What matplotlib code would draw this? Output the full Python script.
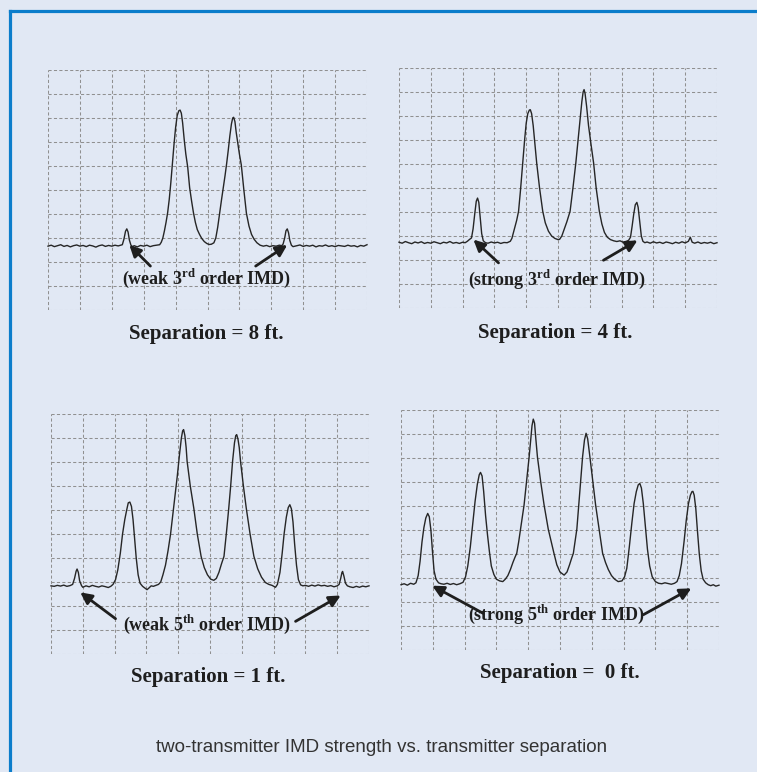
"""Two-transmitter IMD strength vs. transmitter separation (4 analyzer screens)."""
import matplotlib
matplotlib.use("Agg")
import matplotlib.pyplot as plt
from matplotlib.lines import Line2D

plt.rcParams["mathtext.fontset"] = "custom"
plt.rcParams["mathtext.rm"] = "Liberation Serif:bold"
plt.rcParams["mathtext.bf"] = "Liberation Serif:bold"

X_8FT = [0.0, 0.1, 0.2, 0.3, 0.4, 0.5, 0.6, 0.7, 0.8, 0.9,
         1.0, 1.1, 1.2, 1.3, 1.4, 1.5, 1.6, 1.7, 1.8, 1.9,
         2.0, 2.1, 2.2, 2.33, 2.38, 2.43, 2.47, 2.51, 2.55, 2.60,
         2.65, 2.7, 2.8, 2.9, 3.0, 3.1, 3.2, 3.3, 3.4, 3.5,
         3.55, 3.6, 3.65, 3.7, 3.75, 3.8, 3.85, 3.9, 3.95, 4.0,
         4.05, 4.1, 4.14, 4.18, 4.22, 4.27, 4.32, 4.38, 4.44, 4.5,
         4.56, 4.62, 4.68, 4.75, 4.82, 4.9, 4.98, 5.05, 5.12, 5.2,
         5.26, 5.32, 5.38, 5.44, 5.5, 5.55, 5.6, 5.65, 5.7, 5.75,
         5.79, 5.82, 5.86, 5.9, 5.95, 6.0, 6.06, 6.14, 6.22, 6.3,
         6.38, 6.46, 6.55, 6.65, 6.75, 6.85, 6.95, 7.05, 7.15, 7.25,
         7.33, 7.37, 7.42, 7.46, 7.50, 7.54, 7.58, 7.63, 7.68, 7.8,
         7.9, 8.0, 8.1, 8.2, 8.3, 8.4, 8.5, 8.6, 8.7, 8.8,
         8.9, 9.0, 9.1, 9.2, 9.3, 9.4, 9.5, 9.6, 9.7, 9.8,
         9.9, 10.0]
Y_8FT = [2.66, 2.70, 2.64, 2.68, 2.72, 2.65, 2.69, 2.63, 2.68, 2.71,
         2.66, 2.69, 2.64, 2.70, 2.67, 2.62, 2.68, 2.71, 2.65, 2.69,
         2.66, 2.70, 2.67, 2.72, 2.95, 3.28, 3.38, 3.25, 2.92, 2.70,
         2.64, 2.68, 2.63, 2.69, 2.66, 2.70, 2.64, 2.68, 2.70, 2.72,
         2.82, 3.00, 3.30, 3.65, 4.05, 4.60, 5.30, 6.10, 6.90, 7.60,
         8.10, 8.30, 8.33, 8.20, 7.80, 7.10, 6.50, 5.95, 5.10, 4.55,
         4.05, 3.65, 3.35, 3.15, 2.98, 2.85, 2.77, 2.73, 2.74, 2.80,
         3.00, 3.45, 4.03, 4.60, 5.15, 5.60, 6.10, 6.65, 7.25, 7.75,
         8.00, 8.03, 7.85, 7.40, 6.95, 6.50, 6.04, 5.00, 4.03, 3.50,
         3.15, 2.95, 2.80, 2.70, 2.66, 2.69, 2.64, 2.68, 2.66, 2.70,
         2.68, 2.75, 3.00, 3.30, 3.38, 3.22, 2.90, 2.70, 2.64, 2.68,
         2.71, 2.65, 2.69, 2.66, 2.70, 2.63, 2.68, 2.66, 2.71, 2.65,
         2.68, 2.64, 2.69, 2.67, 2.65, 2.70, 2.66, 2.68, 2.63, 2.69,
         2.66, 2.72]

X_4FT = [0.0, 0.1, 0.2, 0.3, 0.4, 0.5, 0.6, 0.7, 0.8, 0.9,
         1.0, 1.1, 1.2, 1.3, 1.4, 1.5, 1.6, 1.7, 1.8, 1.9,
         2.0, 2.08, 2.15, 2.22, 2.28, 2.33, 2.38, 2.43, 2.47, 2.51,
         2.55, 2.60, 2.65, 2.72, 2.8, 2.9, 3.0, 3.1, 3.2, 3.3,
         3.4, 3.5, 3.55, 3.6, 3.65, 3.7, 3.76, 3.82, 3.89, 3.95,
         4.0, 4.05, 4.1, 4.13, 4.17, 4.22, 4.27, 4.33, 4.42, 4.52,
         4.6, 4.7, 4.8, 4.9, 5.0, 5.05, 5.12, 5.2, 5.28, 5.38,
         5.47, 5.56, 5.63, 5.70, 5.75, 5.79, 5.82, 5.85, 5.9, 5.96,
         6.04, 6.12, 6.2, 6.3, 6.38, 6.46, 6.55, 6.65, 6.75, 6.85,
         6.95, 7.05, 7.15, 7.22, 7.28, 7.33, 7.38, 7.43, 7.48, 7.52,
         7.57, 7.62, 7.67, 7.73, 7.8, 7.9, 8.0, 8.1, 8.2, 8.3,
         8.4, 8.5, 8.6, 8.7, 8.8, 8.9, 9.0, 9.1, 9.16, 9.22,
         9.3, 9.4, 9.5, 9.6, 9.7, 9.8, 9.9, 10.0]
Y_4FT = [2.74, 2.70, 2.77, 2.72, 2.68, 2.75, 2.71, 2.76, 2.69, 2.73,
         2.70, 2.76, 2.72, 2.68, 2.74, 2.71, 2.77, 2.70, 2.73, 2.69,
         2.74, 2.72, 2.78, 2.86, 2.92, 3.30, 3.90, 4.45, 4.58, 4.40,
         3.80, 3.10, 2.80, 2.72, 2.70, 2.75, 2.71, 2.74, 2.69, 2.73,
         2.72, 2.78, 2.90, 3.15, 3.40, 3.65, 4.03, 4.90, 6.04, 7.00,
         7.70, 8.10, 8.25, 8.26, 8.10, 7.60, 6.90, 6.04, 5.00, 4.03,
         3.55, 3.20, 3.00, 2.90, 2.85, 2.86, 3.00, 3.30, 3.60, 4.03,
         5.00, 6.04, 7.00, 7.95, 8.60, 9.00, 9.10, 8.95, 8.40, 7.60,
         6.80, 6.04, 5.00, 4.03, 3.50, 3.15, 2.95, 2.85, 2.80, 2.77,
         2.80, 2.74, 2.78, 2.82, 2.95, 3.40, 3.90, 4.30, 4.40, 4.20,
         3.60, 3.00, 2.78, 2.72, 2.75, 2.70, 2.76, 2.71, 2.74, 2.69,
         2.75, 2.72, 2.68, 2.74, 2.70, 2.76, 2.71, 2.78, 2.95, 2.74,
         2.70, 2.75, 2.69, 2.73, 2.70, 2.74, 2.68, 2.72]

X_1FT = [0.0, 0.1, 0.2, 0.3, 0.4, 0.5, 0.6, 0.68, 0.74, 0.79,
         0.82, 0.86, 0.9, 0.96, 1.0, 1.1, 1.2, 1.3, 1.4, 1.5,
         1.6, 1.7, 1.8, 1.88, 1.95, 2.03, 2.1, 2.18, 2.25, 2.32,
         2.38, 2.43, 2.48, 2.53, 2.58, 2.63, 2.68, 2.74, 2.8, 2.88,
         2.96, 3.02, 3.08, 3.15, 3.22, 3.3, 3.38, 3.45, 3.52, 3.6,
         3.68, 3.76, 3.84, 3.91, 3.97, 4.04, 4.1, 4.14, 4.17, 4.21,
         4.25, 4.28, 4.38, 4.49, 4.6, 4.72, 4.82, 4.92, 5.02, 5.12,
         5.2, 5.28, 5.36, 5.44, 5.52, 5.59, 5.65, 5.71, 5.77, 5.81,
         5.84, 5.88, 5.92, 5.96, 6.05, 6.14, 6.26, 6.38, 6.5, 6.62,
         6.74, 6.85, 6.95, 7.06, 7.12, 7.2, 7.27, 7.33, 7.4, 7.46,
         7.51, 7.56, 7.61, 7.66, 7.72, 7.78, 7.85, 7.92, 8.0, 8.1,
         8.2, 8.3, 8.4, 8.5, 8.6, 8.7, 8.8, 8.9, 9.0, 9.06,
         9.11, 9.15, 9.17, 9.21, 9.26, 9.32, 9.4, 9.5, 9.6, 9.7,
         9.8, 9.9, 10.0]
Y_1FT = [2.84, 2.82, 2.86, 2.83, 2.87, 2.82, 2.85, 2.90, 3.15, 3.45,
         3.54, 3.40, 3.05, 2.85, 2.78, 2.84, 2.80, 2.86, 2.82, 2.79,
         2.84, 2.81, 2.77, 2.82, 2.90, 3.10, 3.50, 4.20, 5.00, 5.60,
         6.00, 6.30, 6.33, 6.15, 5.60, 4.80, 4.00, 3.30, 2.95, 2.82,
         2.74, 2.68, 2.75, 2.84, 2.82, 2.86, 2.90, 3.00, 3.30, 3.70,
         4.30, 5.00, 5.90, 6.70, 7.40, 8.30, 9.00, 9.30, 9.35, 9.10,
         8.60, 8.03, 7.00, 6.08, 5.00, 4.07, 3.60, 3.30, 3.12, 3.07,
         3.15, 3.40, 3.75, 4.07, 5.10, 6.08, 7.00, 8.03, 8.80, 9.10,
         9.14, 8.95, 8.60, 8.03, 7.00, 6.08, 5.00, 4.07, 3.55, 3.20,
         2.98, 2.90, 2.86, 2.78, 2.90, 3.40, 4.20, 5.00, 5.70, 6.10,
         6.22, 6.05, 5.50, 4.60, 3.70, 3.10, 2.88, 2.84, 2.86, 2.82,
         2.87, 2.83, 2.88, 2.84, 2.86, 2.82, 2.85, 2.80, 2.84, 2.90,
         3.15, 3.40, 3.44, 3.25, 2.95, 2.84, 2.80, 2.77, 2.82, 2.78,
         2.83, 2.80, 2.84]

X_0FT = [0.0, 0.1, 0.2, 0.3, 0.4, 0.47, 0.54, 0.6, 0.66, 0.72,
         0.78, 0.84, 0.89, 0.94, 0.99, 1.04, 1.1, 1.18, 1.26, 1.35,
         1.45, 1.55, 1.65, 1.75, 1.85, 1.95, 2.03, 2.1, 2.18, 2.26,
         2.33, 2.4, 2.46, 2.5, 2.55, 2.6, 2.66, 2.72, 2.78, 2.84,
         2.92, 3.0, 3.1, 3.2, 3.28, 3.36, 3.44, 3.52, 3.58, 3.64,
         3.70, 3.76, 3.82, 3.87, 3.95, 4.03, 4.08, 4.12, 4.16, 4.2,
         4.24, 4.29, 4.39, 4.5, 4.63, 4.81, 4.9, 5.0, 5.13, 5.22,
         5.3, 5.36, 5.42, 5.53, 5.59, 5.65, 5.71, 5.77, 5.82, 5.87,
         5.94, 6.03, 6.12, 6.23, 6.34, 6.43, 6.52, 6.62, 6.72, 6.83,
         6.95, 7.03, 7.1, 7.18, 7.26, 7.33, 7.4, 7.46, 7.51, 7.56,
         7.62, 7.68, 7.75, 7.82, 7.9, 8.0, 8.1, 8.2, 8.3, 8.4,
         8.5, 8.6, 8.68, 8.75, 8.82, 8.9, 8.97, 9.04, 9.1, 9.15,
         9.18, 9.22, 9.27, 9.32, 9.38, 9.44, 9.5, 9.58, 9.66, 9.74,
         9.82, 9.9, 10.0]
Y_0FT = [2.72, 2.76, 2.70, 2.78, 2.74, 2.80, 3.10, 3.70, 4.50, 5.10,
         5.50, 5.69, 5.55, 5.00, 4.10, 3.30, 2.95, 2.80, 2.76, 2.74,
         2.78, 2.73, 2.77, 2.72, 2.76, 2.82, 3.05, 3.50, 4.30, 5.30,
         6.20, 6.90, 7.30, 7.40, 7.25, 6.60, 5.60, 4.80, 4.10, 3.50,
         3.15, 2.95, 2.88, 2.85, 2.95, 3.10, 3.35, 3.65, 3.85, 4.03,
         4.50, 5.04, 5.55, 6.04, 7.04, 8.05, 8.80, 9.35, 9.62, 9.45,
         8.80, 8.05, 7.04, 6.04, 5.04, 4.03, 3.55, 3.25, 3.12, 3.25,
         3.55, 3.80, 4.03, 5.04, 6.04, 7.04, 8.05, 8.75, 9.03, 8.80,
         8.05, 7.04, 6.04, 5.04, 4.03, 3.65, 3.35, 3.10, 2.95, 2.85,
         2.88, 3.05, 3.40, 4.30, 5.30, 6.10, 6.60, 6.88, 6.94, 6.75,
         6.10, 5.20, 4.20, 3.50, 3.05, 2.85, 2.78, 2.76, 2.80, 2.77,
         2.74, 2.78, 2.85, 3.10, 3.60, 4.50, 5.40, 6.10, 6.45, 6.60,
         6.61, 6.45, 5.90, 5.00, 4.00, 3.30, 2.95, 2.80, 2.72, 2.68,
         2.72, 2.66, 2.70]

TRACES = [(X_8FT, Y_8FT), (X_4FT, Y_4FT), (X_1FT, Y_1FT), (X_0FT, Y_0FT)]
LABELS = ["Separation = 8 ft.", "Separation = 4 ft.",
          "Separation = 1 ft.", "Separation =  0 ft."]
NOTES = ["(weak 3$^{\\mathrm{rd}}$ order IMD)",
         "(strong 3$^{\\mathrm{rd}}$ order IMD)",
         "(weak 5$^{\\mathrm{th}}$ order IMD)",
         "(strong 5$^{\\mathrm{th}}$ order IMD)"]
CAPTION = "two-transmitter IMD strength vs. transmitter separation"

W, H = 757, 772
BG = "#e1e8f4"
BLUE = "#0b7dcb"
INK = "#262626"
GRID = "#909090"

# panel boxes in pixels: left, top, right, bottom
BOXES = [(48, 70, 367, 310), (399, 68, 717, 308),
         (51, 414, 369, 654), (401, 410, 719, 650)]
LABEL_POS = [(206, 334), (555, 333), (208, 677), (560, 673)]
NOTE_POS = [(4.98, 1.32), (4.98, 1.21), (4.91, 1.25), (4.87, 1.47)]
ARROWS = [
    [((3.21, 1.83), (2.55, 2.71)), ((6.51, 1.83), (7.50, 2.71))],
    [((3.13, 1.88), (2.34, 2.85)), ((6.43, 1.99), (7.50, 2.82))],
    [((2.03, 1.47), (0.92, 2.57)), ((7.69, 1.36), (9.11, 2.44))],
    [((2.58, 1.53), (0.98, 2.68)), ((7.62, 1.47), (9.13, 2.57))],
]

fig = plt.figure(figsize=(W / 100, H / 100), dpi=100, facecolor=BG)

# blue frame on top and left
fig.add_artist(Line2D([9.5 / W, 1.0], [1 - 10.5 / H, 1 - 10.5 / H],
                      transform=fig.transFigure, color=BLUE, lw=2.3))
fig.add_artist(Line2D([9.5 / W, 9.5 / W], [0.0, 1 - 10.5 / H],
                      transform=fig.transFigure, color=BLUE, lw=2.3))

for i, ((xs, ys), box) in enumerate(zip(TRACES, BOXES)):
    l, t, r, b = box
    ax = fig.add_axes([l / W, 1 - b / H, (r - l) / W, (b - t) / H])
    ax.set_facecolor(BG)
    ax.set_xlim(0, 10)
    ax.set_ylim(0, 10)
    for s in ax.spines.values():
        s.set_visible(False)
    ax.set_xticks([])
    ax.set_yticks([])
    for k in range(11):
        ax.axvline(k, color=GRID, lw=0.75, ls=(0, (3, 2.2)), zorder=1)
        ax.axhline(k, color=GRID, lw=0.75, ls=(0, (3, 2.2)), zorder=1)

    ax.plot(xs, ys, color=INK, lw=1.0, zorder=3, clip_on=False)

    ax.text(*NOTE_POS[i], NOTES[i], ha="center", va="center",
            fontsize=13, family="Liberation Serif", weight="bold",
            color="#1e1e1e", zorder=4)
    for tail, tip in ARROWS[i]:
        ax.annotate("", xy=tip, xytext=tail,
                    arrowprops=dict(arrowstyle="-|>", color="#1e1e1e",
                                    lw=2.0, mutation_scale=17,
                                    shrinkA=0, shrinkB=0), zorder=4)

    lx, ly = LABEL_POS[i]
    fig.text(lx / W, 1 - ly / H, LABELS[i], ha="center", va="center",
             fontsize=15, family="Liberation Serif", weight="bold",
             color="#1e1e1e")

fig.text(382 / W, 1 - 748 / H, CAPTION, ha="center", va="center",
         fontsize=13.5, family="Liberation Sans", color="#333333")

fig.savefig("out.png", dpi=100, facecolor=BG)
